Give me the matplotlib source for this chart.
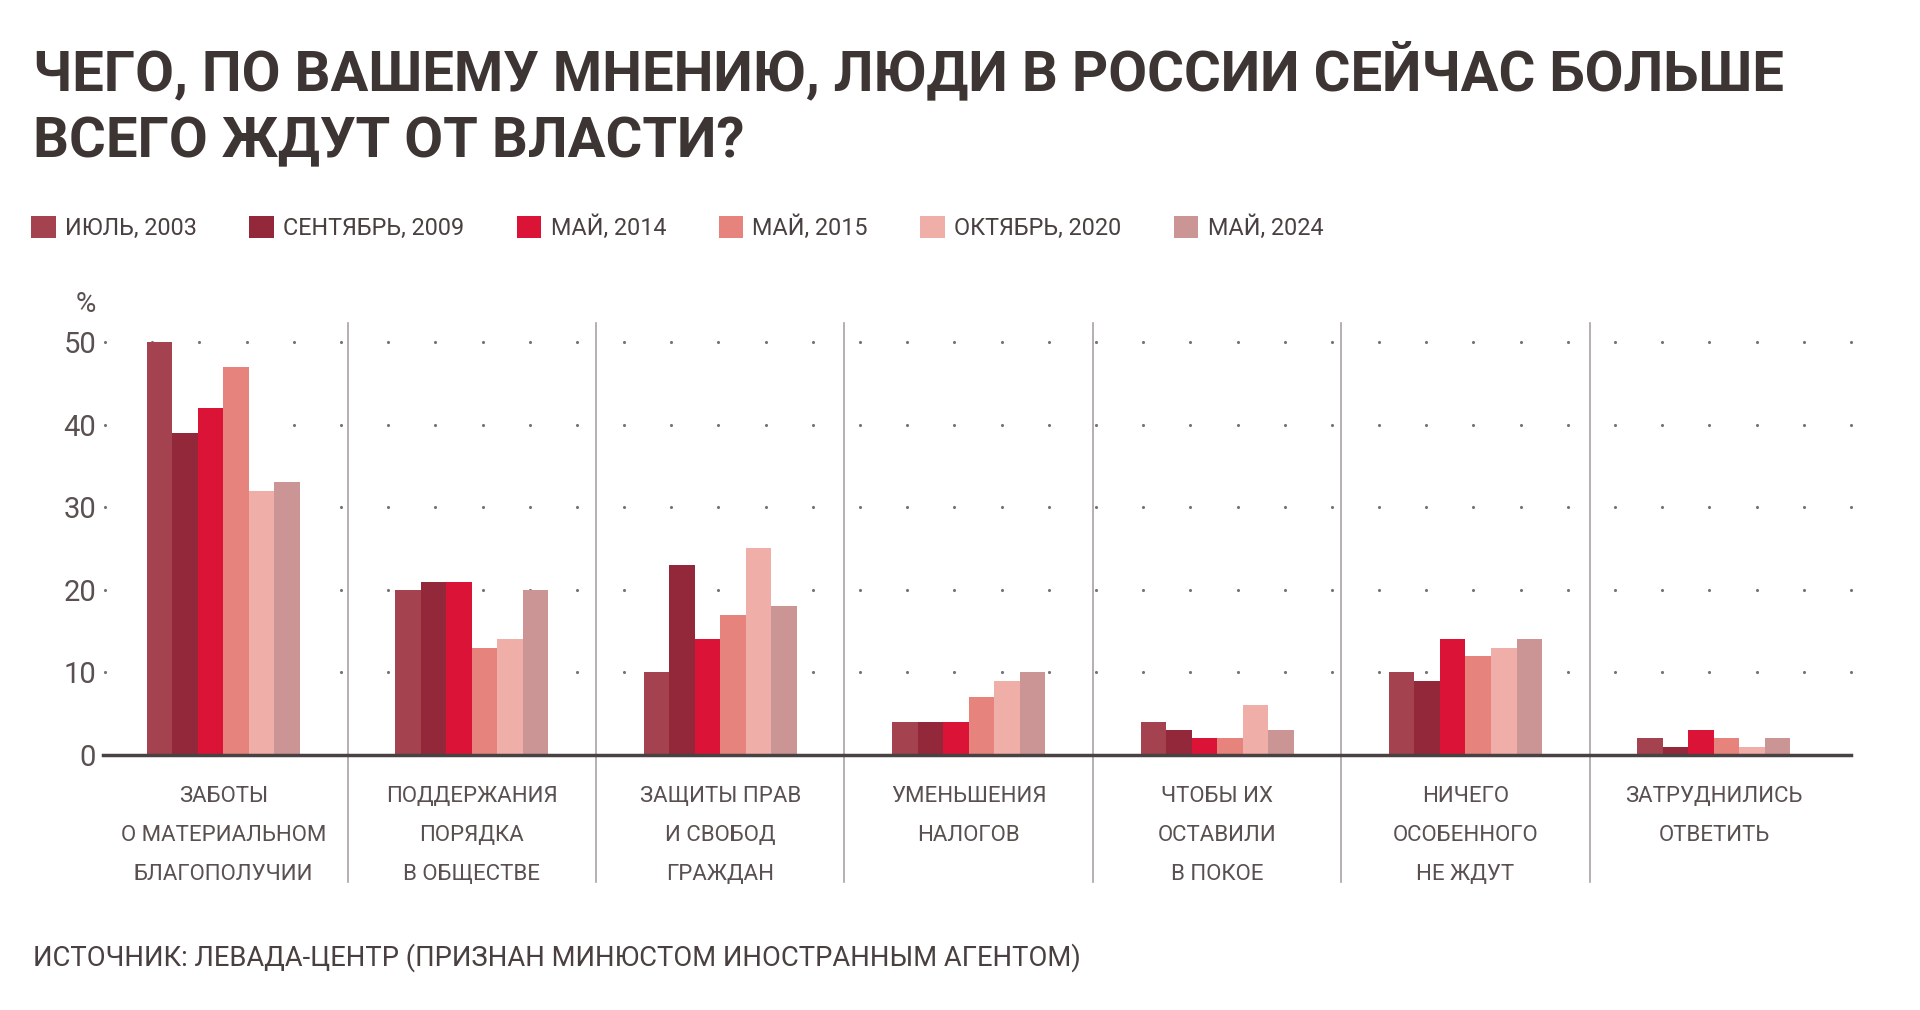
import numpy as np
import matplotlib
matplotlib.use("Agg")
import matplotlib.pyplot as plt
from matplotlib.patches import Patch

plt.rcParams['font.family'] = ['Roboto', 'DejaVu Sans']

# данные
categories = [
    "Заботы\nо материальном\nблагополучии",
    "Поддержания\nпорядка\nв обществе",
    "Защиты прав\nи свобод\nграждан",
    "Уменьшения\nналогов",
    "Чтобы их\nоставили\nв покое",
    "Ничего\nособенного\nне ждут",
    "Затруднились\nответить",
]
series_names = ["Июль, 2003", "Сентябрь, 2009", "Май, 2014",
                "Май, 2015", "Октябрь, 2020", "Май, 2024"]
jul_2003 = [50, 20, 10, 4, 4, 10, 2]
sep_2009 = [39, 21, 23, 4, 3, 9, 1]
may_2014 = [42, 21, 14, 4, 2, 14, 3]
may_2015 = [47, 13, 17, 7, 2, 12, 2]
oct_2020 = [32, 14, 25, 9, 6, 13, 1]
may_2024 = [33, 20, 18, 10, 3, 14, 2]
yticks = [0, 10, 20, 30, 40, 50]

series = [jul_2003, sep_2009, may_2014, may_2015, oct_2020, may_2024]
colors = ["#a4434f", "#93283b", "#da1337", "#e7837d", "#efaea7", "#cb9595"]
txt = "#4a4040"

fig = plt.figure(figsize=(19.2, 10.1), dpi=100)
W, H = 1920, 1010
ax = fig.add_axes([103 / W, (H - 755) / H, (1851 - 103) / W, (755 - 320.5) / H])

x = np.arange(len(categories))
w = 0.1027
for i, (vals, c) in enumerate(zip(series, colors)):
    ax.bar(x + (i - 2.5) * w, vals, w, color=c, zorder=3, label=series_names[i].upper())

# точечная сетка
dots_x = np.linspace(-0.477, 6.552, 38)
for yv in yticks[1:]:
    ax.scatter(dots_x, [yv] * len(dots_x), s=5, color="#7a7272", zorder=1,
               clip_on=False, linewidths=0)

# разделители
for k in range(len(categories) - 1):
    ax.axvline(k + 0.5, ymin=-0.292, ymax=0.994, color="#aaa2a2", lw=1.2,
               clip_on=False, zorder=0)

ax.set_xlim(-0.485, 6.552)
ax.set_ylim(0, 52.6)
for s in ["top", "right", "left"]:
    ax.spines[s].set_visible(False)
ax.spines["bottom"].set_color("#4a4242")
ax.spines["bottom"].set_linewidth(2.5)
ax.spines["bottom"].set_zorder(4)

ax.set_yticks(yticks)
ax.set_yticklabels([str(v) for v in yticks], fontsize=21, color="#5a5050")
ax.tick_params(axis="y", length=0, pad=5)
ax.set_xticks(x)
ax.set_xticklabels([c.upper() for c in categories], fontsize=16, color="#5a5050",
                   linespacing=2.15)
ax.tick_params(axis="x", length=0, pad=22)

fig.text(86 / W, (H - 304) / H, "%", fontsize=20, color="#5a5050",
         ha="center", va="center")

fig.text(33 / W, (H - 42) / H,
         "ЧЕГО, ПО ВАШЕМУ МНЕНИЮ, ЛЮДИ В РОССИИ СЕЙЧАС БОЛЬШЕ\nВСЕГО ЖДУТ ОТ ВЛАСТИ?",
         fontsize=40.5, fontweight="bold", color="#3d3434", va="top", ha="left",
         linespacing=1.35)

handles = [Patch(facecolor=c, edgecolor="none") for c in colors]
fig.legend(handles, [s.upper() for s in series_names], loc="center left",
           bbox_to_anchor=(31 / W, (H - 228) / H), ncol=6, frameon=False,
           fontsize=16.8, handlelength=1.05, handleheight=1.05, handletextpad=0.4,
           columnspacing=2.25, borderpad=0, borderaxespad=0, labelcolor=txt)

fig.text(33 / W, (H - 958) / H,
         "ИСТОЧНИК: ЛЕВАДА-ЦЕНТР (ПРИЗНАН МИНЮСТОМ ИНОСТРАННЫМ АГЕНТОМ)",
         fontsize=19.7, color=txt, va="center", ha="left")

fig.savefig("out.png", dpi=100)
